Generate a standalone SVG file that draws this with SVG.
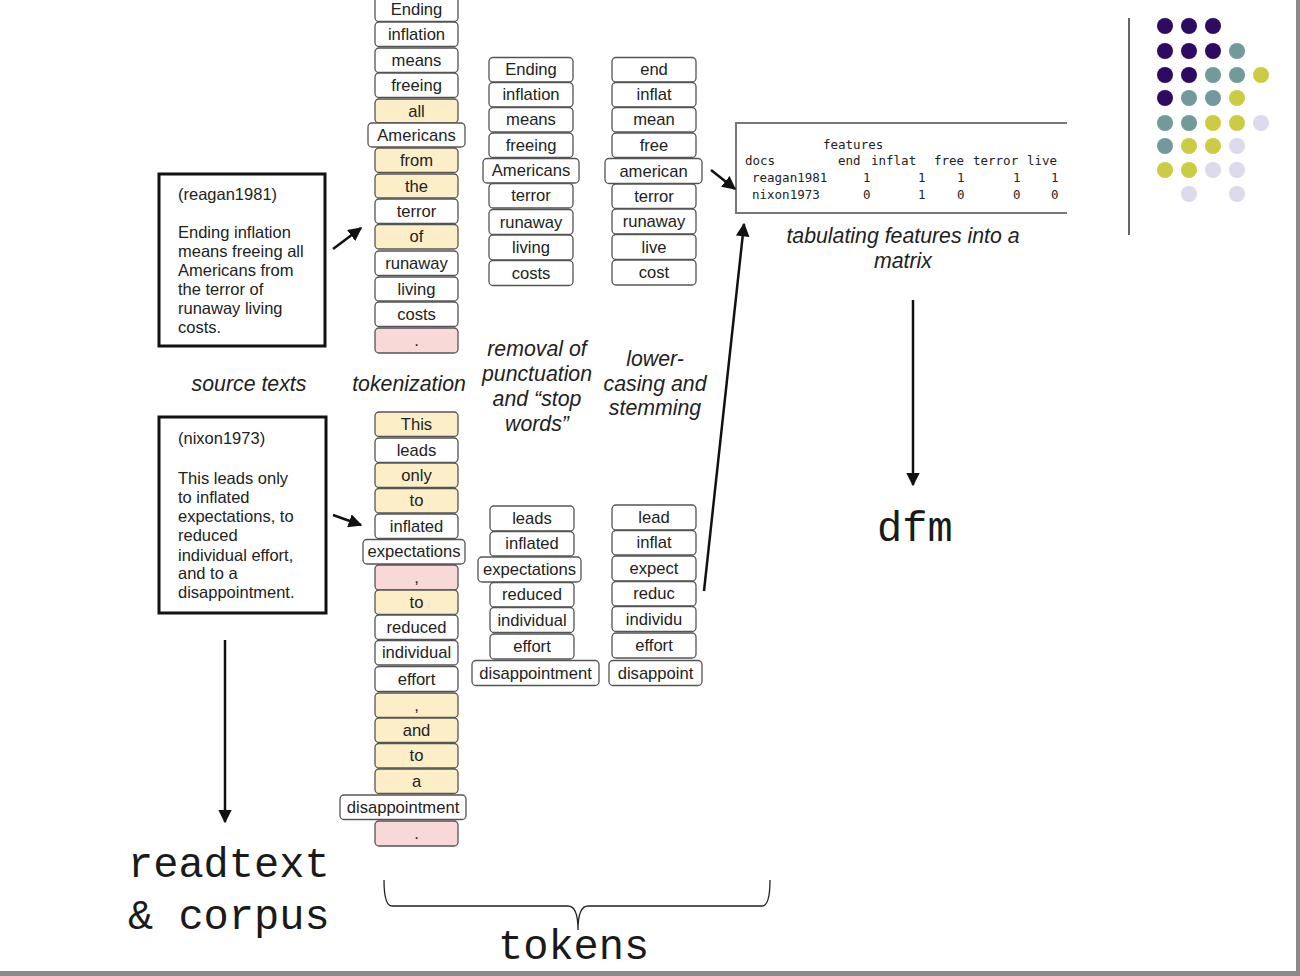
<svg xmlns="http://www.w3.org/2000/svg" width="1300" height="976" viewBox="0 0 1300 976">
<style>
.b{fill:#fff;stroke:#555;stroke-width:1.3}
.y{fill:#fcefc8}
.p{fill:#f9d8d8}
.t{font-family:"Liberation Sans",Arial,sans-serif;font-size:16.6px;fill:#222;text-anchor:middle;dominant-baseline:central}
.src{font-family:"Liberation Sans",Arial,sans-serif;font-size:16.5px;fill:#222}
.lab{font-family:"Liberation Sans",Arial,sans-serif;font-size:21.3px;font-style:italic;fill:#222;text-anchor:middle}
.mono{font-family:"Liberation Mono","Courier New",monospace;font-size:42px;fill:#1a1a1a}
.mx{font-family:"DejaVu Sans Mono","Liberation Mono",monospace;font-size:12.5px;fill:#222}
.ln{stroke:#111;stroke-width:2.5;fill:none}
.dp{fill:#2e0a62}.dt{fill:#739a9a}.dy{fill:#cccc44}.dl{fill:#dcdaeb}
</style>
<defs>
<marker id="ah" viewBox="0 0 10 10" refX="9" refY="5" markerWidth="5.5" markerHeight="5.5" orient="auto" markerUnits="strokeWidth">
<path d="M0,0 L10,5 L0,10 z" fill="#111"/>
</marker>
</defs>
<rect x="0" y="0" width="1300" height="976" fill="#fff"/>
<rect x="1296" y="0" width="4" height="976" fill="#8a8a8a"/>
<rect x="0" y="971" width="1300" height="5" fill="#8a8a8a"/>

<!-- decoration -->
<g id="decor">
<line x1="1129" y1="18" x2="1129" y2="235" stroke="#333" stroke-width="1.5"/>
<circle class="dp" cx="1165" cy="26" r="8"/><circle class="dp" cx="1189" cy="26" r="8"/><circle class="dp" cx="1213" cy="26" r="8"/>
<circle class="dp" cx="1165" cy="51" r="8"/><circle class="dp" cx="1189" cy="51" r="8"/><circle class="dp" cx="1213" cy="51" r="8"/><circle class="dt" cx="1237" cy="51" r="8"/>
<circle class="dp" cx="1165" cy="75" r="8"/><circle class="dp" cx="1189" cy="75" r="8"/><circle class="dt" cx="1213" cy="75" r="8"/><circle class="dt" cx="1237" cy="75" r="8"/><circle class="dy" cx="1261" cy="75" r="8"/>
<circle class="dp" cx="1165" cy="98" r="8"/><circle class="dt" cx="1189" cy="98" r="8"/><circle class="dt" cx="1213" cy="98" r="8"/><circle class="dy" cx="1237" cy="98" r="8"/>
<circle class="dt" cx="1165" cy="123" r="8"/><circle class="dt" cx="1189" cy="123" r="8"/><circle class="dy" cx="1213" cy="123" r="8"/><circle class="dy" cx="1237" cy="123" r="8"/><circle class="dl" cx="1261" cy="123" r="8"/>
<circle class="dt" cx="1165" cy="146" r="8"/><circle class="dy" cx="1189" cy="146" r="8"/><circle class="dy" cx="1213" cy="146" r="8"/><circle class="dl" cx="1237" cy="146" r="8"/>
<circle class="dy" cx="1165" cy="170" r="8"/><circle class="dy" cx="1189" cy="170" r="8"/><circle class="dl" cx="1213" cy="170" r="8"/><circle class="dl" cx="1237" cy="170" r="8"/>
<circle class="dl" cx="1189" cy="194" r="8"/><circle class="dl" cx="1237" cy="194" r="8"/>
</g>

<!-- source texts -->
<g id="src-reagan">
<rect x="159" y="174" width="166" height="172" fill="#fff" stroke="#111" stroke-width="3"/>
<text class="src" x="178" y="200">(reagan1981)</text>
<text class="src" x="178" y="238">Ending inflation</text>
<text class="src" x="178" y="257">means freeing all</text>
<text class="src" x="178" y="276">Americans from</text>
<text class="src" x="178" y="295">the terror of</text>
<text class="src" x="178" y="314">runaway living</text>
<text class="src" x="178" y="333">costs.</text>
</g>
<g id="src-nixon">
<rect x="159" y="417" width="167" height="196" fill="#fff" stroke="#111" stroke-width="3"/>
<text class="src" x="178" y="444">(nixon1973)</text>
<text class="src" x="178" y="484">This leads only</text>
<text class="src" x="178" y="503">to inflated</text>
<text class="src" x="178" y="522">expectations, to</text>
<text class="src" x="178" y="541">reduced</text>
<text class="src" x="178" y="561">individual effort,</text>
<text class="src" x="178" y="579">and to a</text>
<text class="src" x="178" y="598">disappointment.</text>
</g>

<!-- tokenization column, reagan -->
<g id="tok-reagan">
<rect class="b" x="375" y="-3" width="83" height="24.5" rx="4"/><text class="t" x="416.5" y="9.5">Ending</text>
<rect class="b" x="375" y="22" width="83" height="24.5" rx="4"/><text class="t" x="416.5" y="34.5">inflation</text>
<rect class="b" x="375" y="48" width="83" height="24.5" rx="4"/><text class="t" x="416.5" y="60">means</text>
<rect class="b" x="375" y="73" width="83" height="24.5" rx="4"/><text class="t" x="416.5" y="85.5">freeing</text>
<rect class="b y" x="375" y="99" width="83" height="24" rx="4"/><text class="t" x="416.5" y="111">all</text>
<rect class="b" x="368" y="123" width="97" height="24" rx="4"/><text class="t" x="416.5" y="135">Americans</text>
<rect class="b y" x="375" y="148" width="83" height="24.5" rx="4"/><text class="t" x="416.5" y="160">from</text>
<rect class="b y" x="375" y="174" width="83" height="24" rx="4"/><text class="t" x="416.5" y="186">the</text>
<rect class="b" x="375" y="199" width="83" height="24.5" rx="4"/><text class="t" x="416.5" y="211">terror</text>
<rect class="b y" x="375" y="224.5" width="83" height="24.5" rx="4"/><text class="t" x="416.5" y="236.5">of</text>
<rect class="b" x="375" y="251" width="83" height="24.5" rx="4"/><text class="t" x="416.5" y="263.5">runaway</text>
<rect class="b" x="375" y="277" width="83" height="24" rx="4"/><text class="t" x="416.5" y="289">living</text>
<rect class="b" x="375" y="302" width="83" height="24.5" rx="4"/><text class="t" x="416.5" y="314">costs</text>
<rect class="b p" x="375" y="328" width="83" height="25" rx="4"/><text class="t" x="416.5" y="340.5">.</text>
</g>

<!-- tokenization column, nixon -->
<g id="tok-nixon">
<rect class="b y" x="375" y="412" width="83" height="24.5" rx="4"/><text class="t" x="416.5" y="424">This</text>
<rect class="b" x="375" y="438" width="83" height="24.5" rx="4"/><text class="t" x="416.5" y="450">leads</text>
<rect class="b y" x="375" y="463" width="83" height="24.5" rx="4"/><text class="t" x="416.5" y="475">only</text>
<rect class="b y" x="375" y="488.5" width="83" height="24.5" rx="4"/><text class="t" x="416.5" y="500.5">to</text>
<rect class="b" x="375" y="514" width="83" height="24.5" rx="4"/><text class="t" x="416.5" y="526">inflated</text>
<rect class="b" x="363" y="539.5" width="102" height="24.5" rx="4"/><text class="t" x="414" y="551.5">expectations</text>
<rect class="b p" x="375" y="565" width="83" height="25" rx="4"/><text class="t" x="416.5" y="577.5">,</text>
<rect class="b y" x="375" y="590" width="83" height="24.5" rx="4"/><text class="t" x="416.5" y="602">to</text>
<rect class="b" x="375" y="615" width="83" height="24.5" rx="4"/><text class="t" x="416.5" y="627">reduced</text>
<rect class="b" x="375" y="640.5" width="83" height="24.5" rx="4"/><text class="t" x="416.5" y="652.5">individual</text>
<rect class="b" x="375" y="666.5" width="83" height="25" rx="4"/><text class="t" x="416.5" y="679">effort</text>
<rect class="b y" x="375" y="693" width="83" height="24.5" rx="4"/><text class="t" x="416.5" y="705">,</text>
<rect class="b y" x="375" y="718" width="83" height="24.5" rx="4"/><text class="t" x="416.5" y="730">and</text>
<rect class="b y" x="375" y="743.5" width="83" height="24.5" rx="4"/><text class="t" x="416.5" y="755.5">to</text>
<rect class="b y" x="375" y="769" width="83" height="24.5" rx="4"/><text class="t" x="416.5" y="781">a</text>
<rect class="b" x="340" y="795" width="126" height="24.5" rx="4"/><text class="t" x="403" y="807.5">disappointment</text>
<rect class="b p" x="375" y="821" width="83" height="25" rx="4"/><text class="t" x="416.5" y="833.5">.</text>
</g>

<!-- stopword removal column, reagan -->
<g id="stop-reagan">
<rect class="b" x="489" y="57.5" width="84" height="24.5" rx="4"/><text class="t" x="531" y="69.5">Ending</text>
<rect class="b" x="489" y="82.5" width="84" height="24.5" rx="4"/><text class="t" x="531" y="94.5">inflation</text>
<rect class="b" x="489" y="107.5" width="84" height="24.5" rx="4"/><text class="t" x="531" y="119.5">means</text>
<rect class="b" x="489" y="133" width="84" height="24.5" rx="4"/><text class="t" x="531" y="145">freeing</text>
<rect class="b" x="483" y="158.5" width="96" height="24.5" rx="4"/><text class="t" x="531" y="170.5">Americans</text>
<rect class="b" x="489" y="183.5" width="84" height="24.5" rx="4"/><text class="t" x="531" y="195.5">terror</text>
<rect class="b" x="489" y="209.5" width="84" height="25" rx="4"/><text class="t" x="531" y="222">runaway</text>
<rect class="b" x="489" y="235" width="84" height="25" rx="4"/><text class="t" x="531" y="247.5">living</text>
<rect class="b" x="489" y="260.5" width="84" height="25" rx="4"/><text class="t" x="531" y="273">costs</text>
</g>

<!-- stemming column, reagan -->
<g id="stem-reagan">
<rect class="b" x="612" y="57.5" width="84" height="24.5" rx="4"/><text class="t" x="654" y="69.5">end</text>
<rect class="b" x="612" y="82.5" width="84" height="24.5" rx="4"/><text class="t" x="654" y="94.5">inflat</text>
<rect class="b" x="612" y="107.5" width="84" height="24.5" rx="4"/><text class="t" x="654" y="119.5">mean</text>
<rect class="b" x="612" y="133" width="84" height="24.5" rx="4"/><text class="t" x="654" y="145">free</text>
<rect class="b" x="605" y="158.5" width="97" height="25" rx="4"/><text class="t" x="653.5" y="171">american</text>
<rect class="b" x="612" y="184" width="84" height="24.5" rx="4"/><text class="t" x="654" y="196">terror</text>
<rect class="b" x="612" y="209" width="84" height="25" rx="4"/><text class="t" x="654" y="221.5">runaway</text>
<rect class="b" x="612" y="234.5" width="84" height="25" rx="4"/><text class="t" x="654" y="247">live</text>
<rect class="b" x="612" y="260" width="84" height="25" rx="4"/><text class="t" x="654" y="272.5">cost</text>
</g>

<!-- stopword removal column, nixon -->
<g id="stop-nixon">
<rect class="b" x="490" y="506" width="84" height="25" rx="4"/><text class="t" x="532" y="518.5">leads</text>
<rect class="b" x="490" y="531.5" width="84" height="24.5" rx="4"/><text class="t" x="532" y="543.5">inflated</text>
<rect class="b" x="478" y="557" width="103" height="25" rx="4"/><text class="t" x="529.5" y="569.5">expectations</text>
<rect class="b" x="490" y="582.5" width="84" height="24.5" rx="4"/><text class="t" x="532" y="594.5">reduced</text>
<rect class="b" x="490" y="607.5" width="84" height="25" rx="4"/><text class="t" x="532" y="620">individual</text>
<rect class="b" x="490" y="634" width="84" height="25" rx="4"/><text class="t" x="532" y="646.5">effort</text>
<rect class="b" x="472" y="660.5" width="127" height="25" rx="4"/><text class="t" x="535.5" y="673">disappointment</text>
</g>

<!-- stemming column, nixon -->
<g id="stem-nixon">
<rect class="b" x="612" y="505" width="84" height="25" rx="4"/><text class="t" x="654" y="517.5">lead</text>
<rect class="b" x="612" y="530.5" width="84" height="24.5" rx="4"/><text class="t" x="654" y="542.5">inflat</text>
<rect class="b" x="612" y="556" width="84" height="25" rx="4"/><text class="t" x="654" y="568.5">expect</text>
<rect class="b" x="612" y="581.5" width="84" height="24.5" rx="4"/><text class="t" x="654" y="593.5">reduc</text>
<rect class="b" x="612" y="606.5" width="84" height="25" rx="4"/><text class="t" x="654" y="619">individu</text>
<rect class="b" x="612" y="633" width="84" height="25" rx="4"/><text class="t" x="654" y="645.5">effort</text>
<rect class="b" x="609" y="660.5" width="93" height="25" rx="4"/><text class="t" x="655.5" y="673">disappoint</text>
</g>

<!-- dfm matrix -->
<g id="matrix">
<path d="M1067,123 H736 V213 H1067" fill="#fff" stroke="#777" stroke-width="2"/>
<text class="mx" x="823" y="149">features</text>
<text class="mx" x="745" y="165">docs</text>
<text class="mx" x="838" y="165">end</text>
<text class="mx" x="871" y="165">inflat</text>
<text class="mx" x="934" y="165">free</text>
<text class="mx" x="973" y="165">terror</text>
<text class="mx" x="1027" y="165">live</text>
<text class="mx" x="752" y="182">reagan1981</text>
<text class="mx" x="863" y="182">1</text><text class="mx" x="918" y="182">1</text><text class="mx" x="957" y="182">1</text><text class="mx" x="1013" y="182">1</text><text class="mx" x="1051" y="182">1</text>
<text class="mx" x="752" y="199">nixon1973</text>
<text class="mx" x="863" y="199">0</text><text class="mx" x="918" y="199">1</text><text class="mx" x="957" y="199">0</text><text class="mx" x="1013" y="199">0</text><text class="mx" x="1051" y="199">0</text>
</g>

<!-- step labels -->
<g id="labels">
<text class="lab" x="249" y="391">source texts</text>
<text class="lab" x="409" y="391">tokenization</text>
<text class="lab" x="537" y="356">removal of</text>
<text class="lab" x="537" y="381">punctuation</text>
<text class="lab" x="537" y="406">and “stop</text>
<text class="lab" x="537" y="431">words”</text>
<text class="lab" x="655" y="366">lower-</text>
<text class="lab" x="655" y="391">casing and</text>
<text class="lab" x="655" y="415">stemming</text>
<text class="lab" x="903" y="243">tabulating features into a</text>
<text class="lab" x="903" y="268">matrix</text>
<text class="mono" x="128" y="877">readtext</text>
<text class="mono" x="128" y="929">&amp; corpus</text>
<text class="mono" x="498" y="959">tokens</text>
<text class="mono" x="877" y="541">dfm</text>
</g>

<!-- connectors -->
<g id="connectors">
<line class="ln" x1="333" y1="249" x2="361" y2="228" marker-end="url(#ah)"/>
<line class="ln" x1="333" y1="515" x2="361" y2="525" marker-end="url(#ah)"/>
<line class="ln" x1="711" y1="170" x2="735" y2="189" marker-end="url(#ah)"/>
<line class="ln" x1="704" y1="591" x2="744" y2="224" stroke-width="2.2" marker-end="url(#ah)"/>
<line class="ln" x1="913" y1="300" x2="913" y2="485" stroke-width="3" marker-end="url(#ah)"/>
<line class="ln" x1="225" y1="640" x2="225" y2="822" stroke-width="3" marker-end="url(#ah)"/>
<path d="M384,880 Q384,906 392,906 H568 Q578,906 578,930 Q578,906 588,906 H762 Q770,906 770,880" fill="none" stroke="#222" stroke-width="1.3"/>
</g>
</svg>
